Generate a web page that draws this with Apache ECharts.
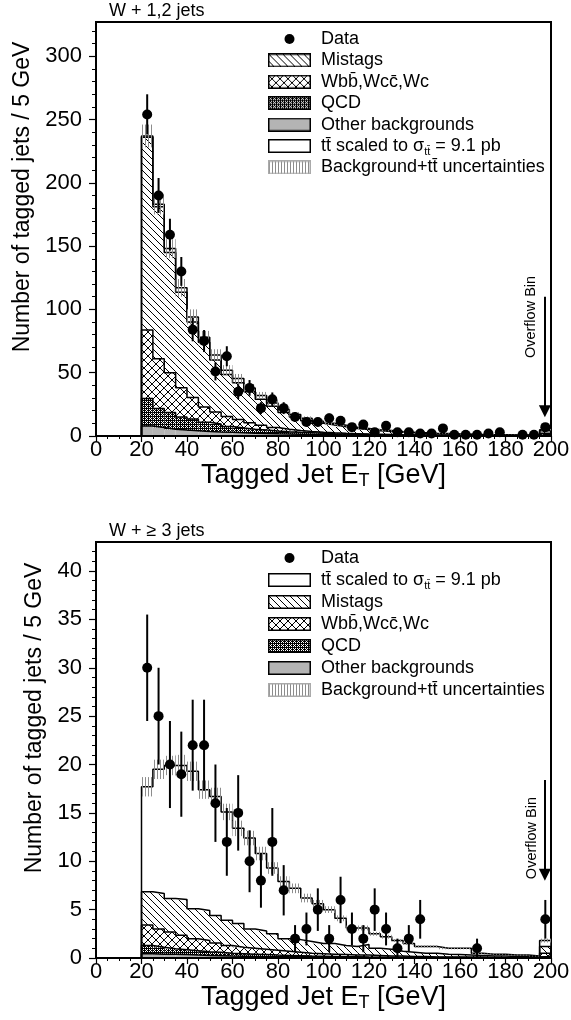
<!DOCTYPE html>
<html>
<head>
<meta charset="utf-8">
<title>Tagged jet ET</title>
<script src="https://cdn.jsdelivr.net/npm/echarts@6.0.0/dist/echarts.min.js"></script>
<style>
  html, body { margin: 0; padding: 0; background: #fff; }
  #chart { width: 571px; height: 1020px; }
</style>
</head>
<body>
<div id="chart"></div>
<script>
const FONT = '"Liberation Sans", Arial, Helvetica, sans-serif';

// 5 GeV bins, 20..200 GeV, the last one is the overflow bin
const binLow = [20, 25, 30, 35, 40, 45, 50, 55, 60, 65, 70, 75, 80, 85, 90, 95, 100, 105,
  110, 115, 120, 125, 130, 135, 140, 145, 150, 155, 160, 165, 170, 175, 180, 185, 190, 195];
const binWidth = 5;

const yTicks12 = [0, 50, 100, 150, 200, 250, 300];
const yTicks3 = [0, 5, 10, 15, 20, 25, 30, 35, 40];

// ---- W + 1,2 jets ----
const data12 = [254, 190, 159, 130, 84, 75, 51, 63, 35, 38, 22, 29, 22, 15, 11, 11, 14, 12,
  7, 9, 3, 8, 3, 3, 2, 2, 6, 1, 1, 1, 2, 3, 0, 1, 1, 7];
const err12 = [15.9, 13.8, 12.6, 11.4, 9.2, 8.7, 7.1, 7.9, 5.9, 6.2, 4.7, 5.4, 4.7, 3.9, 3.3, 3.3, 3.7, 3.5,
  2.6, 3.0, 1.7, 2.8, 1.7, 1.7, 1.4, 1.4, 2.4, 1, 1, 1, 1.4, 1.7, 0, 1, 1, 2.6];
const other12 = [7.9, 6.8, 5.3, 4.7, 4.2, 3.6, 3.2, 2.9, 2.5, 2.2, 2.0, 1.7, 1.5, 1.3, 1.1, 1.0, 0.9, 0.8,
  0.7, 0.6, 0.5, 0.45, 0.4, 0.35, 0.3, 0.3, 0.25, 0.2, 0.2, 0.2, 0.15, 0.15, 0.1, 0.1, 0.1, 0.6];
const qcd12 = [21.8, 15.0, 13.2, 10.3, 9.2, 7.2, 6.3, 4.6, 3.8, 3.2, 2.7, 2.3, 1.9, 1.6, 1.4, 1.1, 0.9, 0.8,
  0.7, 0.6, 0.5, 0.45, 0.4, 0.35, 0.3, 0.2, 0.2, 0.2, 0.15, 0.1, 0.15, 0.1, 0.1, 0.1, 0.1, 0.9];
const wbb12 = [54.0, 39.2, 31.5, 23.2, 17.1, 12.2, 9.5, 8.0, 6.7, 5.1, 3.8, 2.8, 2.0, 1.5, 1.1, 0.9, 0.7, 0.5,
  0.4, 0.3, 0.3, 0.2, 0.15, 0.15, 0.15, 0.15, 0.1, 0.1, 0.1, 0.1, 0.05, 0.05, 0.1, 0.05, 0.05, 0.7];
const mistag12 = [152.3, 120, 95, 75.3, 59.5, 51, 41, 33, 29, 24.5, 20.5, 16.7, 13.1, 10.6, 8.4, 7.0, 6.1, 5.2,
  4.2, 3.6, 2.9, 2.5, 2.05, 1.65, 1.35, 1.15, 0.95, 0.8, 0.65, 0.5, 0.45, 0.4, 0.3, 0.25, 0.25, 2.0];
const tt12 = [1, 2, 3, 3.5, 4, 4, 4, 3.5, 3.5, 3, 3, 2.5, 2.5, 2, 2, 1.6, 1.4, 1.2,
  1, 0.9, 0.8, 0.7, 0.6, 0.5, 0.5, 0.4, 0.4, 0.3, 0.3, 0.3, 0.2, 0.2, 0.2, 0.2, 0.1, 0.8];
const unc12 = [9, 8, 7.5, 7, 6, 5, 4.5, 4, 3.5, 3, 2.8, 2.5, 2, 1.8, 1.5, 1.3, 1.2, 1,
  0.9, 0.8, 0.7, 0.6, 0.5, 0.5, 0.4, 0.4, 0.3, 0.3, 0.3, 0.3, 0.2, 0.2, 0.2, 0.2, 0.2, 0.6];

// ---- W + >=3 jets ----
const data3 = [30, 25, 20, 19, 22, 22, 16, 12, 15, 10, 8, 12, 7, 2, 3, 5, 2, 6,
  3, 2, 5, 3, 1, 2, 4, 0, 0, 0, 0, 1, 0, 0, 0, 0, 0, 4];
const err3 = [5.5, 5, 4.5, 4.4, 4.7, 4.7, 4, 3.5, 3.9, 3.2, 2.8, 3.5, 2.6, 1.4, 1.7, 2.2, 1.4, 2.4,
  1.7, 1.4, 2.2, 1.7, 1, 1.4, 2, 0, 0, 0, 0, 1, 0, 0, 0, 0, 0, 2];
const other3 = [0.45, 0.4, 0.38, 0.35, 0.3, 0.27, 0.24, 0.2, 0.18, 0.16, 0.14, 0.12, 0.1, 0.09, 0.08, 0.07, 0.06, 0.05,
  0.05, 0.04, 0.04, 0.03, 0.03, 0.03, 0.02, 0.02, 0.02, 0.02, 0.01, 0.01, 0.01, 0.01, 0.01, 0.01, 0.01, 0.1];
const qcd3 = [0.85, 0.7, 0.57, 0.5, 0.45, 0.38, 0.36, 0.3, 0.27, 0.24, 0.21, 0.18, 0.17, 0.15, 0.12, 0.11, 0.1, 0.09,
  0.07, 0.06, 0.05, 0.05, 0.04, 0.04, 0.03, 0.03, 0.03, 0.02, 0.02, 0.02, 0.02, 0.02, 0.01, 0.01, 0.01, 0.1];
const wbb3 = [2.1, 1.9, 1.75, 1.5, 1.25, 1.15, 0.95, 0.8, 0.65, 0.6, 0.55, 0.5, 0.43, 0.36, 0.3, 0.27, 0.24, 0.21,
  0.18, 0.2, 0.16, 0.12, 0.13, 0.08, 0.1, 0.05, 0.05, 0.06, 0.07, 0.07, 0.02, 0.02, 0.03, 0.03, 0.03, 0.3];
const mistag3 = [3.44, 3.67, 3.45, 3.7, 3.1, 3.1, 2.85, 2.6, 2.46, 2.0, 1.9, 1.7, 1.3, 1.3, 1.2, 1.05, 1.1, 0.95,
  0.9, 1.1, 0.75, 0.7, 0.5, 0.45, 0.35, 0.4, 0.3, 0.25, 0.2, 0.15, 0.15, 0.15, 0.1, 0.1, 0.05, 0.7];
const tt3 = [10.86, 12.83, 13.75, 13.85, 14.2, 12.5, 12.3, 11.2, 9.84, 9.4, 8.0, 6.8, 5.9, 5.3, 4.5, 4.1, 3.5, 2.8,
  1.9, 1.7, 1.5, 1.3, 1.1, 0.9, 0.7, 0.7, 0.6, 0.65, 0.7, 0.25, 0.2, 0.2, 0.15, 0.15, 0.1, 0.6];
const unc3 = [1.0, 1.0, 1.0, 1.1, 1.0, 0.95, 0.9, 0.85, 0.8, 0.75, 0.7, 0.6, 0.55, 0.5, 0.45, 0.4, 0.35, 0.3,
  0.25, 0.25, 0.2, 0.2, 0.15, 0.15, 0.12, 0.12, 0.1, 0.1, 0.1, 0.08, 0.06, 0.06, 0.05, 0.05, 0.04, 0.2];

// overflow annotation: [x, yTop, yBottom] of the arrow, [x, y] of the text
const arrow12 = [197.3, 110, 19.5];
const arrow3 = [197.3, 18.4, 8.6];
const overflowText12 = [191.3, 94];
const overflowText3 = [191.6, 12.4];

const legendText = {
  data: 'Data',
  mistag: 'Mistags',
  wbb: 'Wbb\u0304,Wcc\u0304,Wc',
  qcd: 'QCD',
  other: 'Other backgrounds',
  tt: '{n|tt\u0304 scaled to \u03c3}{s|tt\u0304}{n| = 9.1 pb}',
  unc: 'Background+tt\u0304 uncertainties',
};
const legendOrder12 = ['data', 'mistag', 'wbb', 'qcd', 'other', 'tt', 'unc'];
const legendOrder3 = ['data', 'tt', 'mistag', 'wbb', 'qcd', 'other', 'unc'];

// ---- fill patterns ----
function makeTile(w, h, draw) {
  const c = document.createElement('canvas');
  c.width = w;
  c.height = h;
  draw(c.getContext('2d'));
  return c;
}
const tiles = {
  mistag: makeTile(7, 7, (ctx) => {
    ctx.fillStyle = '#000';
    for (let i = 0; i < 7; i++) ctx.fillRect(i, i, 1, 1);
  }),
  wbb: makeTile(8, 8, (ctx) => {
    ctx.fillStyle = '#000';
    for (let i = 0; i < 8; i++) { ctx.fillRect(i, i, 1, 1); ctx.fillRect(7 - i, i, 1, 1); }
  }),
  qcd: makeTile(4, 4, (ctx) => {
    ctx.fillStyle = '#000';
    ctx.fillRect(0, 0, 4, 4);
    ctx.fillStyle = '#fff';
    [[1, 1], [3, 3], [1, 3], [3, 1], [2, 2]].forEach(([x, y]) => ctx.fillRect(x, y, 1, 1));
  }),
  unc: makeTile(3, 1, (ctx) => {
    ctx.fillStyle = '#8c8c8c';
    ctx.fillRect(1, 0, 1, 1);
  }),
};
const fills = {
  other: '#b4b4b4',
  qcd: { image: tiles.qcd, repeat: 'repeat' },
  wbb: { image: tiles.wbb, repeat: 'repeat' },
  mistag: { image: tiles.mistag, repeat: 'repeat' },
  tt: '#fff',
  unc: { image: tiles.unc, repeat: 'repeat' },
};

function legendIcon(key) {
  const c = makeTile(43, 14, (ctx) => {
    if (key === 'data') {
      ctx.fillStyle = '#000';
      ctx.beginPath();
      ctx.arc(21.5, 7, 5, 0, Math.PI * 2);
      ctx.fill();
      return;
    }
    const f = fills[key];
    ctx.fillStyle = typeof f === 'string' ? f : ctx.createPattern(f.image, 'repeat');
    ctx.fillRect(0, 0, 43, 14);
    ctx.strokeStyle = key === 'unc' ? '#aaa' : '#000';
    ctx.lineWidth = 1.5;
    ctx.strokeRect(0.75, 0.75, 41.5, 12.5);
  });
  return 'image://' + c.toDataURL();
}

function stackLevels(layers) {
  const levels = [binLow.map(() => 0)];
  layers.forEach((arr) => {
    const prev = levels[levels.length - 1];
    levels.push(arr.map((v, i) => prev[i] + v));
  });
  return levels;
}

function fillSeries(name, g, lo, hi, fill, z) {
  return {
    type: 'custom',
    name,
    xAxisIndex: g,
    yAxisIndex: 2 * g,
    silent: true,
    clip: true,
    z,
    data: binLow.map((x, i) => [x, x + binWidth, lo[i], hi[i]]),
    encode: { x: [0, 1], y: [2, 3] },
    renderItem: (params, api) => {
      const a = api.coord([api.value(0), api.value(3)]);
      const b = api.coord([api.value(1), api.value(2)]);
      return {
        type: 'rect',
        shape: { x: a[0], y: a[1], width: b[0] - a[0], height: b[1] - a[1] },
        style: { fill },
      };
    },
  };
}

function outlineSeries(g, level, fromZero) {
  const pts = binLow.map((x, i) => [x, level[i]]);
  pts.unshift(fromZero ? [0, 0] : [binLow[0], 0]);
  pts.push([binLow[binLow.length - 1] + binWidth, level[level.length - 1]]);
  pts.push([binLow[binLow.length - 1] + binWidth, 0]);
  return {
    type: 'line',
    xAxisIndex: g,
    yAxisIndex: 2 * g,
    step: 'end',
    symbol: 'none',
    silent: true,
    z: 3,
    lineStyle: { color: '#000', width: 1.5 },
    data: pts,
  };
}

function panelSeries(g, p) {
  const levels = stackLevels([p.other, p.qcd, p.wbb, p.mistag, p.tt]);
  const total = levels[5];
  const keys = ['other', 'qcd', 'wbb', 'mistag', 'tt'];
  const out = [];
  keys.forEach((k, j) => out.push(fillSeries(k, g, levels[j], levels[j + 1], fills[k], 1)));
  levels.slice(1, 5).forEach((lv) => out.push(outlineSeries(g, lv, false)));

  const totalLine = outlineSeries(g, total, true);
  totalLine.markLine = {
    silent: true,
    symbol: ['none', 'triangle'],
    symbolSize: 12,
    label: { show: false },
    lineStyle: { color: '#000', width: 2, type: 'solid' },
    data: [[{ coord: [p.arrow[0], p.arrow[1]] }, { coord: [p.arrow[0], p.arrow[2]] }]],
  };
  totalLine.markPoint = {
    silent: true,
    symbol: 'circle',
    symbolSize: 1,
    itemStyle: { color: 'rgba(0,0,0,0)' },
    label: {
      show: true, formatter: 'Overflow Bin', rotate: 90, position: 'inside',
      color: '#000', fontSize: 14.5, fontFamily: FONT,
    },
    data: [{ coord: p.textAt }],
  };
  out.push(totalLine);

  out.push(fillSeries('unc', g, total.map((v, i) => v - p.unc[i]),
    total.map((v, i) => v + p.unc[i]), fills.unc, 4));

  // data error bars
  const bars = [];
  p.data.forEach((n, i) => {
    if (n > 0) bars.push([binLow[i] + binWidth / 2, n - p.err[i], n + p.err[i]]);
  });
  out.push({
    type: 'custom',
    xAxisIndex: g,
    yAxisIndex: 2 * g,
    silent: true,
    z: 5,
    data: bars,
    encode: { x: 0, y: [1, 2] },
    renderItem: (params, api) => {
      const a = api.coord([api.value(0), api.value(1)]);
      const b = api.coord([api.value(0), api.value(2)]);
      return {
        type: 'line',
        shape: { x1: a[0], y1: a[1], x2: b[0], y2: b[1] },
        style: { stroke: '#000', lineWidth: 2 },
      };
    },
  });
  out.push({
    type: 'scatter',
    name: 'data',
    xAxisIndex: g,
    yAxisIndex: 2 * g,
    symbol: 'circle',
    symbolSize: 10,
    silent: true,
    z: 6,
    itemStyle: { color: '#000', opacity: 1 },
    data: p.data.map((n, i) => [binLow[i] + binWidth / 2, n > 0 ? n : '-']),
  });
  return out;
}

function xAxis(g) {
  return {
    type: 'value',
    gridIndex: g,
    min: 0,
    max: 200,
    interval: 20,
    z: 8,
    name: '{a|Tagged Jet E}{s|T}{a| [GeV]}',
    nameLocation: 'middle',
    nameGap: 23,
    nameTextStyle: {
      rich: {
        a: { fontSize: 27, lineHeight: 30, fontFamily: FONT, color: '#000' },
        s: { fontSize: 18, lineHeight: 16, verticalAlign: 'bottom', fontFamily: FONT, color: '#000' },
      },
    },
    axisLine: { show: true, onZero: false, lineStyle: { color: '#000', width: 2 } },
    axisTick: { show: true, length: 6, lineStyle: { color: '#000', width: 1.2 } },
    minorTick: { show: true, splitNumber: 4, length: 3, lineStyle: { color: '#000', width: 1 } },
    axisLabel: { color: '#000', fontSize: 22, fontFamily: FONT, margin: 3 },
    splitLine: { show: false },
  };
}

function yAxes(g, max, ticks, minorStep) {
  const minor = [];
  for (let v = minorStep; v < max; v += minorStep) minor.push(Math.round(v * 100) / 100);
  return [
    {
      type: 'value',
      gridIndex: g,
      position: 'left',
      min: 0,
      max,
      z: 8,
      name: 'Number of tagged jets / 5 GeV',
      nameLocation: 'middle',
      nameGap: 46,
      nameTextStyle: { fontSize: 23, fontFamily: FONT, color: '#000', padding: [0, 0, 0, 64] },
      axisLine: { show: true, onZero: false, lineStyle: { color: '#000', width: 2 } },
      axisTick: { show: true, length: 7, customValues: ticks, lineStyle: { color: '#000', width: 1.2 } },
      axisLabel: { customValues: ticks, color: '#000', fontSize: 22, fontFamily: FONT, margin: 14 },
      splitLine: { show: false },
    },
    {
      type: 'value',
      gridIndex: g,
      position: 'left',
      min: 0,
      max,
      axisLine: { show: false },
      axisTick: { show: true, length: 4, customValues: minor, lineStyle: { color: '#000', width: 1 } },
      axisLabel: { show: false },
      splitLine: { show: false },
    },
  ];
}

function legend(order, top, gap) {
  return {
    orient: 'vertical',
    left: 268,
    top,
    padding: 0,
    itemWidth: 43,
    itemHeight: 14,
    itemGap: gap,
    selectedMode: false,
    formatter: (name) => legendText[name],
    textStyle: {
      color: '#000',
      fontSize: 18,
      lineHeight: 22,
      fontFamily: FONT,
      padding: [0, 0, 0, 5],
      rich: {
        n: { fontSize: 18, lineHeight: 22, fontFamily: FONT, color: '#000' },
        s: { fontSize: 11, lineHeight: 12, verticalAlign: 'bottom', fontFamily: FONT, color: '#000' },
      },
    },
    data: order.map((k) => ({ name: k, icon: legendIcon(k) })),
  };
}

const panel12 = {
  data: data12, err: err12, other: other12, qcd: qcd12, wbb: wbb12,
  mistag: mistag12, tt: tt12, unc: unc12, arrow: arrow12, textAt: overflowText12,
};
const panel3 = {
  data: data3, err: err3, other: other3, qcd: qcd3, wbb: wbb3,
  mistag: mistag3, tt: tt3, unc: unc3, arrow: arrow3, textAt: overflowText3,
};

const chart = echarts.init(document.getElementById('chart'), null, { renderer: 'canvas' });
chart.setOption({
  animation: false,
  backgroundColor: '#fff',
  title: [
    { text: 'W + 1,2 jets', left: 109, top: 2, padding: 0,
      textStyle: { fontSize: 18, fontWeight: 'normal', fontFamily: FONT, color: '#000' } },
    { text: 'W + \u2265 3 jets', left: 109, top: 522, padding: 0,
      textStyle: { fontSize: 18, fontWeight: 'normal', fontFamily: FONT, color: '#000' } },
  ],
  legend: [legend(legendOrder12, 28, -0.6), legend(legendOrder3, 547, 0)],
  grid: [
    { left: 96, top: 22, width: 455, height: 414, show: true, borderColor: '#000', borderWidth: 2,
      backgroundColor: 'transparent', containLabel: false, outerBoundsMode: 'none' },
    { left: 96, top: 542, width: 455, height: 416, show: true, borderColor: '#000', borderWidth: 2,
      backgroundColor: 'transparent', containLabel: false, outerBoundsMode: 'none' },
  ],
  xAxis: [xAxis(0), xAxis(1)],
  yAxis: [...yAxes(0, 327, yTicks12, 10), ...yAxes(1, 43, yTicks3, 1)],
  series: [...panelSeries(0, panel12), ...panelSeries(1, panel3)],
});
</script>
</body>
</html>
